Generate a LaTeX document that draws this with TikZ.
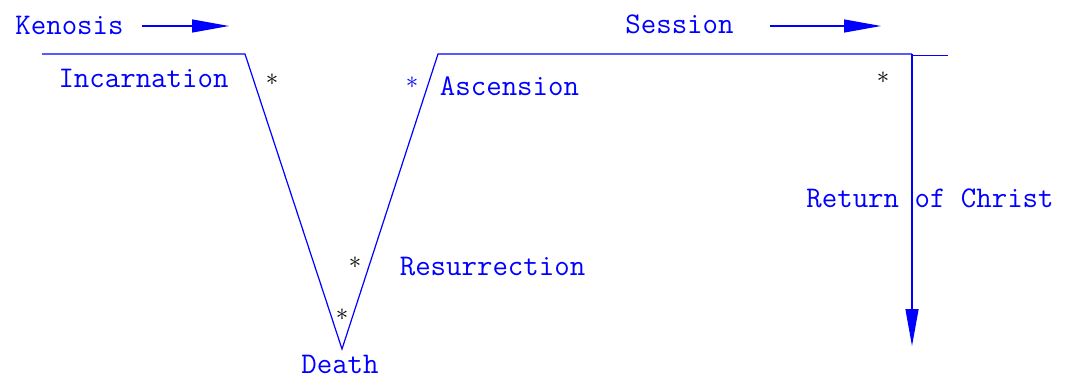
\documentclass[tikz,border=0pt]{standalone}
\usetikzlibrary{arrows.meta}
\tikzset{
  lbl/.style={blue, font=\fontsize{30}{36}\selectfont\ttfamily, inner sep=0pt, anchor=base},
  astnode/.style={inner sep=0pt, font=\fontsize{36}{40}\selectfont},
  curve/.style={blue, line width=1.2pt},
  headarrow/.style={curve, -{Triangle[length=37pt,width=13pt]}}
}
\begin{document}
\begin{tikzpicture}[x=1pt,y=-1pt]
\useasboundingbox (0,0) rectangle (1075,379);

\coordinate (incstart) at (42,54);
\coordinate (incend) at (245,54);
\coordinate (death) at (342,349);
\coordinate (ascstart) at (438,54);
\coordinate (sesend) at (912,54);
\coordinate (tailstart) at (912,55.5);
\coordinate (tailend) at (948,55.5);
\coordinate (retend) at (912,346);
\coordinate (kenA) at (142,26);
\coordinate (kenB) at (229,26);
\coordinate (sesA) at (770,26);
\coordinate (sesB) at (881,26);

\draw[curve] (incstart) -- (incend) -- (death) -- (ascstart) -- (sesend);
\draw[curve] (tailstart) -- (tailend);
\draw[headarrow] (sesend) -- (retend);
\draw[headarrow] (kenA) -- (kenB);
\draw[headarrow] (sesA) -- (sesB);

\node[lbl] (kenosis) at (69.5,35) {Kenosis};
\node[lbl] (incarnation) at (143.5,88) {Incarnation};
\node[lbl] (ascension) at (509.5,96) {Ascension};
\node[lbl] (session) at (679.5,34) {Session};
\node[lbl] (return) at (930,208) {Return of Christ};
\node[lbl] (resurrection) at (492.5,275) {Resurrection};
\node[lbl] (deathlbl) at (340,373) {Death};

\node[astnode] (s1) at (272,80) {$\ast$};
\node[astnode, blue, font=\fontsize{26}{30}\selectfont] (s2) at (412,83) {$\ast$};
\node[astnode] (s3) at (883,78) {$\ast$};
\node[astnode] (s4) at (355,263) {$\ast$};
\node[astnode] (s5) at (342,315) {$\ast$};
\end{tikzpicture}
\end{document}
